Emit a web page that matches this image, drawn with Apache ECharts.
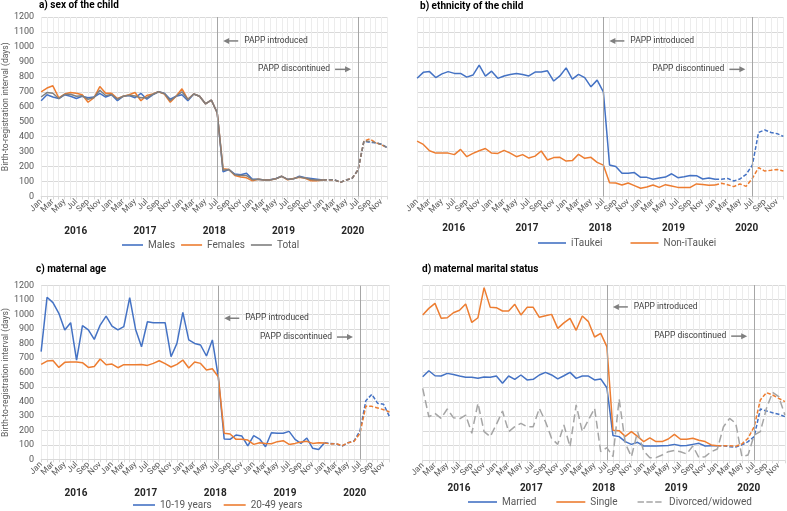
<!DOCTYPE html>
<html><head><meta charset="utf-8">
<script src="https://cdn.jsdelivr.net/npm/echarts@6/dist/echarts.min.js"></script>
<style>html,body{margin:0;padding:0;background:#fff}#c{width:787px;height:511px}</style>
</head><body><div id="c"></div>
<script>
const monthNames = ['Jan','Feb','Mar','Apr','May','Jun','Jul','Aug','Sep','Oct','Nov','Dec'];
const years = ['2016','2017','2018','2019','2020'];
const yMin = 0, yMax = 1200, yStep = 100;
const dashFrom = 48; // Jan 2020

const males = [640,680,665,655,680,670,655,670,660,665,690,665,680,640,670,675,660,690,650,680,700,690,650,670,680,640,685,670,620,645,560,165,180,150,145,155,115,115,110,112,120,135,115,118,135,125,120,115,110,112,112,95,110,122,178,370,362,360,350,325];
const females = [700,725,740,660,685,695,690,680,630,660,735,690,690,655,670,680,695,640,675,685,700,685,630,670,720,650,685,670,620,645,560,185,180,140,130,125,105,115,110,110,118,135,112,120,128,122,105,105,110,112,110,95,110,122,178,370,385,360,345,325];
const total = [665,695,690,655,682,683,670,673,650,662,710,675,682,650,670,677,672,660,660,682,700,688,640,670,700,648,685,670,620,645,560,175,180,145,140,140,112,115,110,111,119,135,114,119,131,124,114,110,110,112,111,95,110,122,178,370,368,360,348,325];

const itaukei = [790,830,835,795,820,835,823,823,798,812,878,805,838,790,806,816,823,816,806,832,832,840,772,806,860,785,816,795,733,778,700,210,200,155,155,160,128,128,115,124,130,152,126,132,141,139,117,124,115,115,121,104,117,148,210,428,445,428,420,402];
const nonItaukei = [370,348,306,290,290,290,280,315,266,288,306,321,290,288,308,290,266,280,257,270,304,244,260,262,237,240,282,255,262,228,210,92,90,77,90,73,55,64,77,61,79,70,61,61,61,84,81,75,77,88,79,66,84,68,121,193,170,175,181,170];

const age1019 = [744,1120,1083,1009,894,944,686,924,894,829,928,990,921,894,917,1117,898,778,951,944,944,944,709,801,1016,825,801,790,714,825,571,140,138,168,161,92,163,140,87,184,180,180,193,138,110,147,76,67,115,110,106,92,115,127,196,405,449,387,380,295];
const age2049 = [656,679,683,635,670,672,672,668,635,642,693,654,658,633,654,654,654,656,649,663,681,661,638,656,686,631,672,663,617,626,571,180,175,138,138,133,103,115,110,108,122,129,103,110,120,124,110,115,113,106,108,94,115,124,180,368,366,355,343,327];

const married = [572,613,579,577,595,588,577,568,568,561,570,568,577,527,577,554,584,550,554,584,602,584,557,579,602,561,577,577,550,557,497,169,162,128,109,123,98,98,98,100,102,109,100,102,109,116,98,100,100,100,93,91,105,128,162,351,338,326,315,299];
const single = [995,1040,1074,972,976,1010,1027,1070,944,976,1182,1047,1045,1022,1022,1068,995,1047,1047,979,990,999,903,941,972,890,988,949,844,869,778,205,203,164,196,164,128,153,128,128,146,178,144,144,151,137,128,105,100,100,100,96,112,151,230,413,463,447,424,402];
const divorced = [492,298,321,287,351,292,283,310,185,390,196,162,246,337,196,230,253,230,230,356,264,150,109,242,93,379,196,276,356,59,87,25,420,116,25,196,64,18,18,36,59,68,59,43,98,18,25,59,77,230,287,253,25,36,173,196,356,465,436,310];

const categories = [];
years.forEach(y => monthNames.forEach(m => categories.push(m + ' ' + y)));

const BLUE = '#4472C4', ORANGE = '#ED7D31', GRAY = '#7F7F7F', LGRAY = '#A5A5A5';
const FONT = 'Roboto';
const TXT = '#595959';

const grids = [
  {left: 40.75, right: 399.6, top: 17, bottom: 314.5},
  {left: 417.1, right: 3.6, top: 17, bottom: 314.5},
  {left: 36.7, right: 397.5, top: 285.7, bottom: 51.7},
  {left: 422.7, right: 0.5, top: 285, bottom: 50.7}
];
const yearMargins = [30, 26.5, 28.7, 22.7];
const showY = [true, false, true, false];

const xAxes = [], yAxes = [];
grids.forEach((g, k) => {
  xAxes.push({
    type: 'category', gridIndex: k, data: categories, boundaryGap: false, position: 'bottom',
    axisLine: {lineStyle: {color: '#d9d9d9'}},
    axisTick: {show: true, interval: 0, length: 3, lineStyle: {color: '#d9d9d9'}},
    axisLabel: {interval: 0, rotate: 45, fontSize: 8.5, color: TXT, fontFamily: FONT, margin: 4,
      showMinLabel: true, showMaxLabel: true, hideOverlap: false,
      formatter: (v, idx) => (idx % 2 === 0 ? v.slice(0, 3) : '')},
    splitLine: {show: true, interval: 0, lineStyle: {color: '#ececec', width: 1}}
  });
  xAxes.push({
    type: 'category', gridIndex: k, data: years, boundaryGap: true, position: 'bottom',
    axisLine: {show: false}, axisTick: {show: false}, splitLine: {show: false},
    axisLabel: {margin: yearMargins[k], fontSize: 10, fontWeight: 'bold', color: '#262626', fontFamily: FONT}
  });
  yAxes.push({
    type: 'value', gridIndex: k, min: yMin, max: yMax, interval: yStep,
    axisLine: {show: false}, axisTick: {show: false},
    axisLabel: {show: showY[k], fontSize: 9, color: TXT, fontFamily: FONT, margin: 7,
      formatter: v => String(v)},
    splitLine: {lineStyle: {color: '#d9d9d9', width: 1}},
    name: showY[k] ? 'Birth-to-registration interval (days)' : '',
    nameLocation: 'middle', nameGap: k === 0 ? 30 : 27,
    nameTextStyle: {fontSize: 8.5, color: TXT, fontFamily: FONT}
  });
});

const vMarks = {
  silent: true, symbol: ['none', 'none'], label: {show: false},
  lineStyle: {color: '#a6a6a6', type: 'solid', width: 1},
  data: [{xAxis: 'Jul 2018'}, {xAxis: 'Jul 2020'}]
};

const series = [];
const firstSeriesOfGrid = [];
function addLine(k, name, arr, color, split, dashType) {
  const base = {type: 'line', name, xAxisIndex: 2 * k, yAxisIndex: k, symbol: 'none', showSymbol: false,
    itemStyle: {color}, z: 3, animation: false};
  if (firstSeriesOfGrid[k] === undefined) firstSeriesOfGrid[k] = series.length;
  if (split) {
    series.push(Object.assign({}, base, {data: arr.map((v, i) => i <= dashFrom ? v : null),
      lineStyle: {color, width: 1.5}}));
    series.push(Object.assign({}, base, {data: arr.map((v, i) => i >= dashFrom ? v : null),
      lineStyle: {color, width: 1.5, type: [4, 2]}}));
  } else {
    series.push(Object.assign({}, base, {data: arr.slice(),
      lineStyle: {color, width: 1.5, type: dashType || 'solid'}}));
  }
}
addLine(0, 'Males', males, BLUE, true);
addLine(0, 'Females', females, ORANGE, true);
addLine(0, 'Total', total, GRAY, true);
addLine(1, 'iTaukei', itaukei, BLUE, true);
addLine(1, 'Non-iTaukei', nonItaukei, ORANGE, true);
addLine(2, '10-19 years', age1019, BLUE, true);
addLine(2, '20-49 years', age2049, ORANGE, true);
addLine(3, 'Married', married, BLUE, true);
addLine(3, 'Single', single, ORANGE, true);
addLine(3, 'Divorced/widowed', divorced, LGRAY, false, [8, 4]);
firstSeriesOfGrid.forEach(si => { series[si].markLine = vMarks; });

const SOLID_ICON = 'rect';
const DASH_ICON = 'path://M0,0h8v2h-8zM11,0h8v2h-8zM22,0h8v2h-8z';
function item(name, dashed) { return {name, icon: dashed ? DASH_ICON : SOLID_ICON}; }

const legendText = {fontSize: 10, color: TXT, fontFamily: FONT};
const legends = [
  {data: [item('Males'), item('Females'), item('Total')], left: 122, top: 240, itemWidth: 21, itemGap: 6},
  {data: [item('iTaukei'), item('Non-iTaukei')], left: 538, top: 238, itemWidth: 28, itemGap: 28},
  {data: [item('10-19 years'), item('20-49 years')], left: 133, top: 500, itemWidth: 22, itemGap: 12},
  {data: [item('Married'), item('Single'), item('Divorced/widowed', true)], left: 468, top: 497, itemWidth: 29, itemGap: 20}
].map(l => Object.assign({itemHeight: 1.6, textStyle: legendText, selectedMode: false, padding: 0}, l));

const titleStyle = {fontSize: 10, fontWeight: 'bold', color: '#000', fontFamily: FONT};
const titles = [
  {text: 'a) sex of the child', left: 39, top: 0},
  {text: 'b) ethnicity of the child', left: 420, top: 1},
  {text: 'c) maternal age', left: 36, top: 264},
  {text: 'd) maternal marital status', left: 422, top: 264}
].map(t => Object.assign({textStyle: titleStyle, padding: 0}, t));

const chart = echarts.init(document.getElementById('c'), null, {renderer: 'canvas'});
chart.setOption({
  animation: false,
  backgroundColor: '#fff',
  title: titles,
  legend: legends,
  grid: grids,
  xAxis: xAxes,
  yAxis: yAxes,
  series: series
});

// annotations
const annot = [
  {intro: 1040, disc: 850},
  {intro: 1040, disc: 850},
  {intro: 975, disc: 845},
  {intro: 1050, disc: 850}
];
const AC = '#7f7f7f';
const graphics = [];
annot.forEach((a, k) => {
  const si = firstSeriesOfGrid[k];
  const p1 = chart.convertToPixel({seriesIndex: si}, ['Jul 2018', a.intro]);
  const p2 = chart.convertToPixel({seriesIndex: si}, ['Jul 2020', a.disc]);
  const hx = p1[0] + 6, y1 = p1[1];
  graphics.push({type: 'polygon', shape: {points: [[hx, y1], [hx + 6, y1 - 3], [hx + 6, y1 + 3]]}, style: {fill: AC}});
  graphics.push({type: 'line', shape: {x1: hx + 5, y1: y1, x2: hx + 15, y2: y1}, style: {stroke: AC, lineWidth: 1.5}});
  graphics.push({type: 'text', x: hx + 21, y: y1, style: {text: 'PAPP introduced', fill: '#404040', font: '8.5px Roboto', verticalAlign: 'middle', align: 'left'}});
  const tx = p2[0] - 7, y2 = p2[1];
  graphics.push({type: 'polygon', shape: {points: [[tx, y2], [tx - 6, y2 - 3], [tx - 6, y2 + 3]]}, style: {fill: AC}});
  graphics.push({type: 'line', shape: {x1: tx - 5, y1: y2, x2: tx - 16, y2: y2}, style: {stroke: AC, lineWidth: 1.5}});
  graphics.push({type: 'text', x: tx - 21, y: y2, style: {text: 'PAPP discontinued', fill: '#404040', font: '8.5px Roboto', verticalAlign: 'middle', align: 'right'}});
});
chart.setOption({graphic: graphics});
</script>
</body></html>
